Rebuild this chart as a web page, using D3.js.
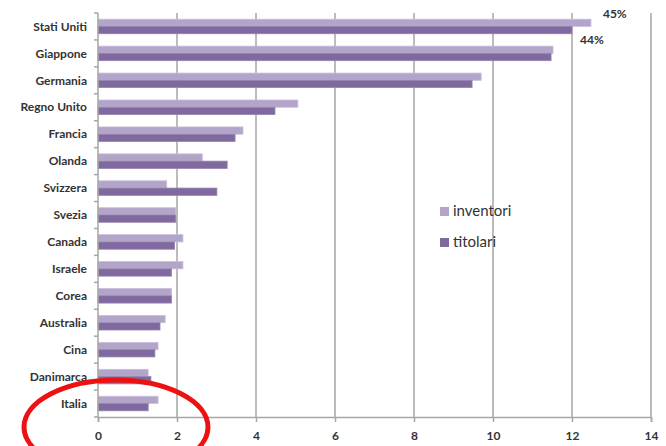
<!DOCTYPE html>
<html>
<head>
<meta charset="utf-8">
<script src="https://cdn.jsdelivr.net/npm/d3@7"></script>
<style>
  body { margin: 0; background: #fff; }
  text { font-family: Lato, "Open Sans", sans-serif; fill: #333; }
</style>
</head>
<body>
<div id="chart"></div>
<script>
// data (percent shares)
const countries = ['Stati Uniti', 'Giappone', 'Germania', 'Regno Unito', 'Francia', 'Olanda', 'Svizzera',
  'Svezia', 'Canada', 'Israele', 'Corea', 'Australia', 'Cina', 'Danimarca', 'Italia'];
const inventori = [12.48, 11.52, 9.7, 5.06, 3.67, 2.64, 1.74, 1.97, 2.15, 2.15, 1.86, 1.70, 1.52, 1.27, 1.52];
const titolari  = [12.0, 11.47, 9.47, 4.48, 3.47, 3.27, 3.01, 1.97, 1.94, 1.86, 1.86, 1.57, 1.44, 1.34, 1.27];
const xTicks = [0, 2, 4, 6, 8, 10, 12, 14];
const seriesNames = ['inventori', 'titolari'];
const topLabels = ['45%', '44%'];

const width = 666, height = 446;
const margin = { top: 13, right: 15, bottom: 29, left: 98 };
const innerW = width - margin.left - margin.right;
const innerH = height - margin.top - margin.bottom;
const colors = ['#b3a5c9', '#7f699e'];
const strokes = ['#c9bedb', '#9584b0'];
const gridColor = '#a6a6a6';

const svg = d3.select('#chart').append('svg')
  .attr('width', width)
  .attr('height', height);

const g = svg.append('g')
  .attr('transform', `translate(${margin.left},${margin.top})`);

const x = d3.scaleLinear().domain([0, 14]).range([0, innerW]);
const y = d3.scaleBand().domain(countries).range([0, innerH]).paddingInner(0.46).paddingOuter(0.23);
const sub = d3.scaleBand().domain(seriesNames).range([0, y.bandwidth()]);

// gridlines
g.append('g').selectAll('line')
  .data(xTicks.slice(1))
  .join('line')
  .attr('x1', d => x(d)).attr('x2', d => x(d))
  .attr('y1', 0).attr('y2', innerH)
  .attr('stroke', gridColor)
  .attr('stroke-width', 1.5);

// bars
const rows = countries.map((c, i) => ({ c, vals: [inventori[i], titolari[i]] }));
const rowG = g.append('g').selectAll('g')
  .data(rows)
  .join('g')
  .attr('transform', d => `translate(0,${y(d.c)})`);

rowG.selectAll('rect')
  .data(d => d.vals.map((v, k) => ({ v, k })))
  .join('rect')
  .attr('x', 0)
  .attr('y', d => sub(seriesNames[d.k]))
  .attr('width', d => x(d.v))
  .attr('height', sub.bandwidth())
  .attr('fill', d => colors[d.k])
  .attr('stroke', d => strokes[d.k])
  .attr('stroke-width', 0.8);

// value labels for Stati Uniti
const us = countries[0];
g.append('text')
  .attr('x', x(inventori[0]) + 12)
  .attr('y', y(us) - 1)
  .attr('font-size', 12).attr('font-weight', 'bold')
  .text(topLabels[0]);
g.append('text')
  .attr('x', x(titolari[0]) + 8)
  .attr('y', y(us) + y.bandwidth() + 10)
  .attr('font-size', 12).attr('font-weight', 'bold')
  .text(topLabels[1]);

// x axis
const xAxis = g.append('g')
  .attr('transform', `translate(0,${innerH})`)
  .call(d3.axisBottom(x).tickValues(xTicks).tickSize(5).tickPadding(9));
xAxis.select('.domain').attr('stroke', gridColor).attr('stroke-width', 1.5);
xAxis.selectAll('.tick line').attr('stroke', gridColor).attr('stroke-width', 1.5);
xAxis.selectAll('text').attr('font-size', 12).attr('font-weight', 'bold').attr('fill', '#333');

// y axis line + boundary ticks
g.append('line')
  .attr('x1', 0).attr('x2', 0).attr('y1', 0).attr('y2', innerH)
  .attr('stroke', gridColor).attr('stroke-width', 1.5);
const step = innerH / countries.length;
g.append('g').selectAll('line')
  .data(d3.range(countries.length + 1))
  .join('line')
  .attr('x1', -4).attr('x2', 0)
  .attr('y1', d => d * step).attr('y2', d => d * step)
  .attr('stroke', gridColor).attr('stroke-width', 1.5);

// category labels
g.append('g').selectAll('text')
  .data(countries)
  .join('text')
  .attr('x', -11)
  .attr('y', d => y(d) + y.bandwidth() / 2)
  .attr('dy', '0.35em')
  .attr('text-anchor', 'end')
  .attr('font-size', 12)
  .attr('font-weight', 'bold')
  .text(d => d);

// legend
const legend = svg.append('g').attr('transform', 'translate(440,207)');
seriesNames.forEach((s, i) => {
  legend.append('rect')
    .attr('x', 0).attr('y', i * 31)
    .attr('width', 9).attr('height', 9)
    .attr('fill', colors[i]);
  legend.append('text')
    .attr('x', 13).attr('y', i * 31 + 9)
    .attr('font-size', 15)
    .text(s);
});

// red highlight ellipse
svg.append('ellipse')
  .attr('cx', 116).attr('cy', 427)
  .attr('rx', 92).attr('ry', 47)
  .attr('fill', 'none')
  .attr('stroke', '#ee1111')
  .attr('stroke-width', 5);
</script>
</body>
</html>
